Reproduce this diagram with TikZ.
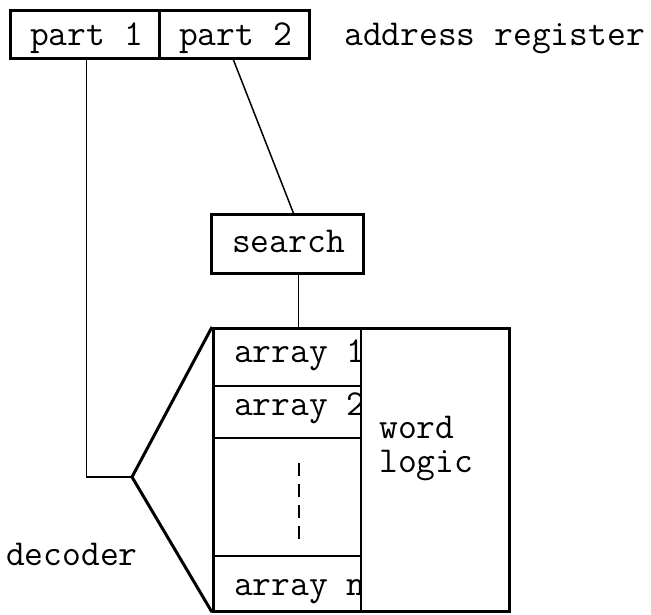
\documentclass[tikz,border=0pt]{standalone}
\usepackage{fontspec}
\begin{document}
\begin{tikzpicture}[x=1pt,y=-1pt,
  box/.style={draw, line width=2.8pt, inner sep=0pt, anchor=north west},
  cell/.style={draw, line width=2.2pt, inner sep=0pt, anchor=north west},
  txt/.style={inner sep=0pt, anchor=base west, font=\fontsize{36.5}{40}\selectfont\ttfamily},
  wire/.style={line width=1.5pt},
  fan/.style={line width=3pt, line join=miter}]
\useasboundingbox[fill=white] (0,0) rectangle (651,614);

% address register
\node[box, minimum width=149pt, minimum height=48pt] (p1) at (9,9) {};
\node[box, minimum width=150pt, minimum height=48pt] (p2) at (158,9) {};
\node[txt] (t1) at (30,45) {part 1};
\node[txt] (t2) at (179,45) {part 2};
\node[txt] (reg) at (344,45) {address register};

% search unit
\node[box, minimum width=152pt, minimum height=59pt] (search) at (210,213) {};
\node[txt] (ts) at (232,252) {search};

% memory arrays
\node[cell, minimum width=148pt, minimum height=58pt] (a1) at (212,327) {};
\node[cell, minimum width=148pt, minimum height=52pt] (a2) at (212,385) {};
\node[cell, minimum width=148pt, minimum height=118pt] (agap) at (212,437) {};
\node[cell, minimum width=148pt, minimum height=55pt] (an) at (212,555) {};
\node[txt] (ta1) at (234,362) {array 1};
\node[txt] (ta2) at (234,415) {array 2};
\node[txt] (tan) at (234,595) {array n};
\draw[line width=2pt, dash pattern=on 13pt off 8pt] (299,463) -- (299,542);

% word logic, drawn over the array labels
\node[cell, fill=white, minimum width=148pt, minimum height=283pt] (wl) at (360,327) {};
\node[txt] (tw) at (379,438) {word};
\node[txt] (tl) at (379,472) {logic};
\node[box, fill=none, minimum width=296pt, minimum height=283pt] (arr) at (212,327) {};

% decoder
\coordinate (dec) at (132,477);
\node[txt] (tdec) at (6,565) {decoder};

% connections
\draw[wire] ([xshift=1.5pt]p1.south) |- (dec);
\draw[fan] (a1.north west) -- (dec) -- (an.south west);
\draw[wire] ([xshift=-1pt]p2.south) -- ([xshift=6pt]search.north);
\draw[wire] ([xshift=11pt]search.south) -- ([xshift=11pt]search.south |- arr.north);
\end{tikzpicture}
\end{document}
